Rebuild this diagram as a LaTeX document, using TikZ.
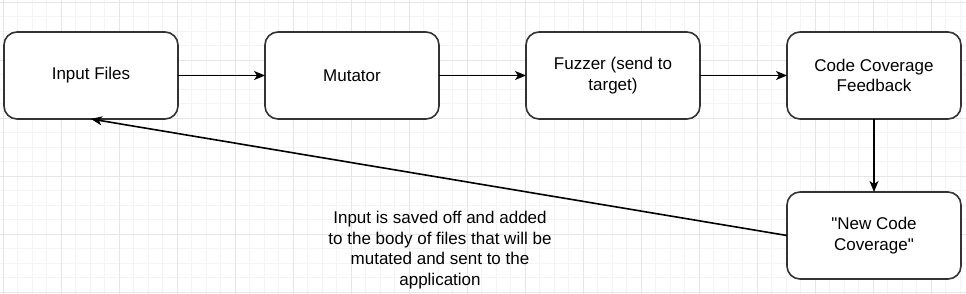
\documentclass[tikz,border=0pt]{standalone}
\usepackage{fontspec}
\setmainfont{Liberation Sans}
\usetikzlibrary{arrows.meta,positioning}
\definecolor{boxline}{HTML}{333333}
\definecolor{gridminor}{HTML}{F4F4F4}
\definecolor{gridmajor}{HTML}{E6E6E6}
\begin{document}
\begin{tikzpicture}[
        x=1pt, y=-1pt, % pixel grid of the reference
        font=\fontsize{17}{20.5}\selectfont,
        block/.style={rectangle, rounded corners=13pt, draw=boxline, line width=1.6pt, fill=white, outer sep=0pt, minimum width=174pt, minimum height=87pt, align=center},
        flow/.style={-{Stealth[length=11pt,width=9pt,inset=3pt]}, line width=1.6pt, black},
        minorline/.style={gridminor, line width=0.8pt},
        majorline/.style={gridmajor, line width=0.8pt}
    ]
    \useasboundingbox (0,0) rectangle (966,294);

    % background grid
    \foreach \i in {0,...,66} {
        \draw[minorline] ({3.3+14.5*\i},0) -- ({3.3+14.5*\i},294);
    }
    \foreach \j in {0,...,20} {
        \draw[minorline] (0,{2+14.5*\j}) -- (966,{2+14.5*\j});
    }
    \foreach \i in {0,...,16} {
        \draw[majorline] ({3.3+58*\i},0) -- ({3.3+58*\i},294);
    }
    \foreach \j in {0,...,5} {
        \draw[majorline] (0,{2+58*\j}) -- (966,{2+58*\j});
    }

    % Top row: the fuzzing loop
    \node[block] (files) at (91, 75.5) {Input Files};
    \node[block, right=87pt of files] (mutator) {Mutator};
    \node[block, right=87pt of mutator] (fuzzer) {Fuzzer (send to\\target)};
    \node[block, right=87pt of fuzzer] (coverage) {Code Coverage\\Feedback};

    % New coverage found
    \node[block, below=73pt of coverage] (newcov) {\textquotedbl New Code\\Coverage\textquotedbl};

    \draw[flow] (files) -- (mutator);
    \draw[flow] (mutator) -- (fuzzer);
    \draw[flow] (fuzzer) -- (coverage);
    \draw[flow] (coverage) -- (newcov);
    \draw[flow] (newcov.west) -- (files.south);

    % Note on the feedback path
    \node[align=center] (note) at (440, 250) {Input is saved off and added\\to the body of files that will be\\mutated and sent to the\\application};

    \end{tikzpicture}
\end{document}
